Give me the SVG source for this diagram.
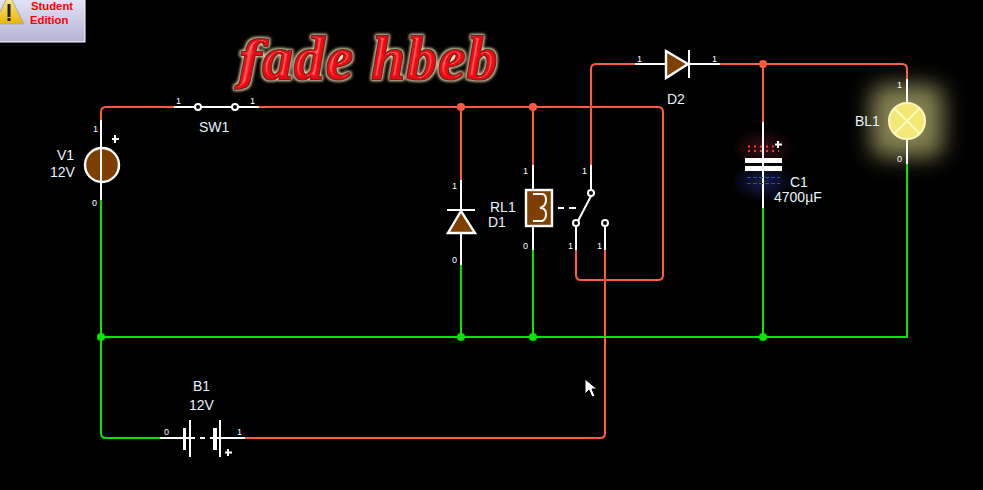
<svg xmlns="http://www.w3.org/2000/svg" width="983" height="490" viewBox="0 0 983 490">
<style>
.r{fill:none;stroke:#ff5c40;stroke-width:2}
.g{fill:none;stroke:#00e600;stroke-width:2}
.t{fill:none;stroke:#fff;stroke-width:2}
.b{fill:#7f3f00;stroke:#fff;stroke-width:2.400}
.o{fill:#000;stroke:#fff;stroke-width:2}
text{font-family:"Liberation Sans",Arial,sans-serif}
.l{font-size:14px;fill:#e6f4ff}
.n{font-size:9px;fill:#fff}
.title{font-family:"Liberation Serif","Times New Roman",serif;font-size:61px;font-weight:bold;font-style:italic;letter-spacing:1.400px}
.jr{fill:#ff5c40}
.jg{fill:#00e600}
</style>
<defs>
<linearGradient id="hdr" x1="0" y1="0" x2="0" y2="1"><stop offset="0" stop-color="#e2e2fa"/><stop offset="1" stop-color="#b4b4d2"/></linearGradient>
<linearGradient id="warn" x1="0" y1="0" x2="0" y2="1"><stop offset="0" stop-color="#fff2a0"/><stop offset="1" stop-color="#e8b400"/></linearGradient>
<radialGradient id="cr"><stop offset="0" stop-color="#802030" stop-opacity=".45"/><stop offset="1" stop-color="#802030" stop-opacity="0"/></radialGradient>
<radialGradient id="cb"><stop offset="0" stop-color="#3038a0" stop-opacity=".5"/><stop offset="1" stop-color="#3038a0" stop-opacity="0"/></radialGradient>
<filter id="lampglow" x="-50%" y="-50%" width="200%" height="200%"><feGaussianBlur stdDeviation="11"/></filter>
<filter id="bevel" x="-5%" y="-30%" width="110%" height="160%" color-interpolation-filters="sRGB">
<feMorphology in="SourceAlpha" operator="dilate" radius="1.500" result="fat"/>
<feGaussianBlur in="fat" stdDeviation="1.500" result="fb"/>
<feFlood flood-color="#f4e8bc"/>
<feComposite in2="fb" operator="in" result="halo"/>
<feMorphology in="SourceAlpha" operator="dilate" radius=".6" result="thin"/>
<feFlood flood-color="#6a2a20"/>
<feComposite in2="thin" operator="in" result="edge"/>
<feGaussianBlur in="SourceAlpha" stdDeviation="1.400" result="bl"/>
<feSpecularLighting in="bl" surfaceScale="4" specularConstant=".9" specularExponent="14" lighting-color="#ffb8b8" result="sp"><feDistantLight azimuth="235" elevation="50"/></feSpecularLighting>
<feComposite in="sp" in2="SourceAlpha" operator="in" result="spc"/>
<feComposite in="SourceGraphic" in2="spc" operator="arithmetic" k1="0" k2="1" k3=".8" k4="0" result="lit"/>
<feMerge><feMergeNode in="halo"/><feMergeNode in="edge"/><feMergeNode in="lit"/></feMerge>
</filter>
</defs>
<rect width="983" height="490" fill="#000"/>
<g id="connectors">
<path class="r" d="M101 120V112Q101 107 106 107H174"/>
<path class="r" d="M259 107H658Q663 107 663 112V275Q663 280 658 280H581Q576 280 576 275V250"/>
<path class="r" d="M461 107V180M533 107V165"/>
<path class="r" d="M591 165V69Q591 64 596 64H635"/>
<path class="r" d="M720 64H902Q907 64 907 69V79"/>
<path class="r" d="M763 64V122"/>
<path class="r" d="M605 250V433Q605 438 600 438H245"/>
<path class="g" d="M101 200V433Q101 438 106 438H160"/>
<path class="g" d="M101 337H907V164"/>
<path class="g" d="M461 265V337M533 250V337M763 208V337"/>
<circle class="jr" cx="461" cy="107" r="4"/>
<circle class="jr" cx="533" cy="107" r="4"/>
<circle class="jr" cx="763" cy="64" r="4"/>
<circle class="jg" cx="101" cy="337" r="4"/>
<circle class="jg" cx="461" cy="337" r="4"/>
<circle class="jg" cx="533" cy="337" r="4"/>
<circle class="jg" cx="763" cy="337" r="4"/>
</g>
<g id="badge">
<rect x="-1" y="-1" width="86" height="43" fill="url(#hdr)" stroke="#fff"/>
<path d="M9 -6L24 24H-6Z" fill="url(#warn)" stroke="#a8a8a8"/>
<rect x="7.500" y="4" width="3" height="13" fill="#222"/>
<rect x="7.500" y="18" width="3" height="3" fill="#222"/>
<text x="31" y="10" font-size="11.300" font-weight="bold" fill="#f00">Student</text>
<text x="30" y="24" font-size="11.300" font-weight="bold" fill="#f00">Edition</text>
</g>
<g id="title">
<text x="238" y="79" class="title" fill="#f00810" filter="url(#bevel)"><tspan font-family="DejaVu Serif" font-size="53">f</tspan>ade hbeb</text>
</g>
<g id="V1">
<path class="t" d="M101 120V200"/>
<circle class="b" cx="102" cy="165" r="17"/>
<path class="t" d="M101 148V182"/>
<path d="M115 135V143M112 139H119" stroke="#fff" stroke-width="2" fill="none"/>
<text x="93" y="132" class="n">1</text>
<text x="92" y="206" class="n">0</text>
<text x="57" y="160" class="l">V1</text>
<text x="50" y="177" class="l">12V</text>
</g>
<g id="SW1">
<path class="t" d="M174 107H259"/>
<circle class="o" cx="198" cy="107" r="3"/>
<circle class="o" cx="235" cy="107" r="3"/>
<text x="176" y="104" class="n">1</text>
<text x="250" y="104" class="n">1</text>
<text x="199" y="132" class="l">SW1</text>
</g>
<g id="D1">
<path class="t" d="M461 180V265"/>
<path class="t" d="M447 210H475"/>
<path class="b" d="M461 211L448 233H475Z"/>
<text x="452" y="189" class="n">1</text>
<text x="452" y="263" class="n">0</text>
<text x="488" y="227" class="l">D1</text>
</g>
<g id="RL1">
<path class="t" d="M533 165V250"/>
<rect class="b" x="526" y="190" width="26" height="36"/>
<path class="t" d="M533 194H542Q546 194 546 200T540 208Q546 208 546 214T542 221H533"/>
<path d="M558 208H564M569 208H576" stroke="#fff" stroke-width="2" fill="none"/>
<text x="523" y="174" class="n">1</text>
<text x="523" y="249" class="n">0</text>
<text x="490" y="212" class="l">RL1</text>
</g>
<g id="RL1-switch">
<path class="t" d="M591 165V190M591 196L578 221M576 226V250M605 226V250"/>
<circle class="o" cx="591" cy="193" r="3"/>
<circle class="o" cx="576" cy="223" r="3"/>
<circle class="o" cx="605" cy="223" r="3"/>
<text x="582" y="174" class="n">1</text>
<text x="568" y="249" class="n">1</text>
<text x="597" y="249" class="n">1</text>
</g>
<g id="D2">
<path class="t" d="M635 64H720M689 50V78"/>
<path class="b" d="M666 51V78L688 64Z"/>
<text x="637" y="62" class="n">1</text>
<text x="712" y="62" class="n">1</text>
<text x="667" y="104" class="l">D2</text>
</g>
<g id="C1">
<ellipse cx="763" cy="148" rx="32" ry="20" fill="url(#cr)"/>
<ellipse cx="763" cy="182" rx="32" ry="20" fill="url(#cb)"/>
<path class="t" d="M763 122V208"/>
<path d="M748 146.500h31M748 151h31" stroke="#f33" stroke-width="2" stroke-dasharray="2 4" fill="none"/>
<path d="M747 177.500h33M747 183.500h33" stroke="#3340e0" stroke-width="1" stroke-dasharray="4 2" fill="none"/>
<rect x="745" y="158" width="37" height="5" fill="#fff"/>
<rect x="745" y="166" width="37" height="5" fill="#fff"/>
<path d="M778 141V148M775 144.500H782" stroke="#fff" stroke-width="2" fill="none"/>
<text x="790" y="187" class="l">C1</text>
<text x="774" y="202" class="l">4700µF</text>
</g>
<g id="BL1">
<rect x="871" y="85" width="72" height="72" rx="12" fill="#a8a268" fill-opacity=".8" filter="url(#lampglow)"/>
<path class="t" d="M907 79V164"/>
<circle cx="907" cy="121" r="18" fill="#f2e873" stroke="#fff8c0" stroke-width="2"/>
<path d="M894 108L920 134M920 108L894 134" stroke="#fff8c0" stroke-width="2" fill="none"/>
<text x="897" y="88" class="n">1</text>
<text x="897" y="162" class="n">0</text>
<text x="855" y="126" class="l">BL1</text>
</g>
<g id="B1">
<path class="t" d="M160 438H195M200 438H205M210 438H245"/>
<rect x="183" y="428" width="3" height="22" fill="#fff"/>
<rect x="189" y="420" width="2" height="37" fill="#fff"/>
<rect x="213" y="428" width="4" height="22" fill="#fff"/>
<rect x="219" y="420" width="2" height="37" fill="#fff"/>
<path d="M228 449V456M225 452.500H232" stroke="#fff" stroke-width="2" fill="none"/>
<text x="164" y="435" class="n">0</text>
<text x="237" y="435" class="n">1</text>
<text x="193" y="391" class="l">B1</text>
<text x="189" y="410" class="l">12V</text>
</g>
<g id="cursor">
<path d="M585 379V394L589 390L592 397L595 396L592 389H597Z" fill="#fff" stroke="#000"/>
</g>
</svg>
